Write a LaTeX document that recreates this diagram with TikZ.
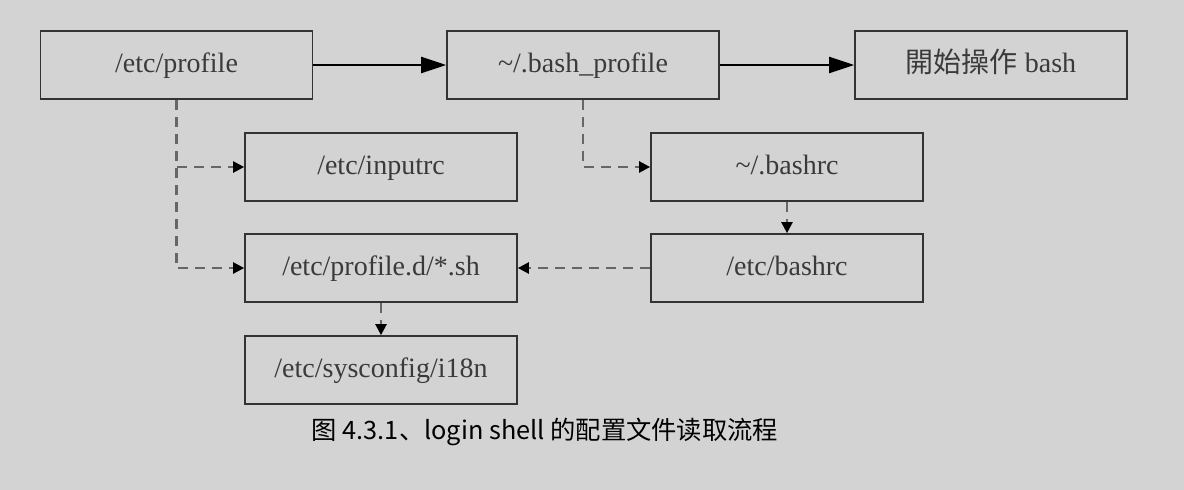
\documentclass[tikz,border=0pt]{standalone}
\usepackage{fontspec}
\setmainfont{Liberation Serif}
\newfontfamily\cjktc{Noto Sans CJK TC}
\newfontfamily\cjksc{Noto Sans CJK SC}
\usetikzlibrary{arrows.meta}
\definecolor{bg}{HTML}{D3D3D3}
\definecolor{boxline}{HTML}{333333}
\definecolor{boxtext}{HTML}{3A3A3A}
\definecolor{dashcol}{HTML}{666666}
\begin{document}
\begin{tikzpicture}[x=1pt,y=-1pt,
  filebox/.style={draw=boxline,line width=1.7pt,minimum width=272pt,minimum height=68pt,inner sep=0pt,text=boxtext,font=\fontsize{28}{30}\selectfont,fill=bg,text height=19pt,text depth=4pt},
  solidarrow/.style={line width=2.4pt,black,-{Triangle[length=25pt,width=16pt]}},
  dasharrow/.style={line width=2.3pt,dashcol,dash pattern=on 10pt off 7pt,-{Triangle[length=11pt,width=11pt,fill=black,color=black]}}]
\fill[bg] (0,0) rectangle (1184,490);
\useasboundingbox (0,0) rectangle (1184,490);
\node[filebox] (prof) at (176.5,65) {/etc/profile};
\node[filebox] (bprof) at (583,65) {\textasciitilde/.bash\_profile};
\node[filebox] (start) at (991,65) {{\cjktc 開始操作} bash};
\node[filebox] (inputrc) at (381,167) {/etc/inputrc};
\node[filebox] (profd) at (381,268) {/etc/profile.d/*.sh};
\node[filebox] (i18n) at (381,370) {/etc/sysconfig/i18n};
\node[filebox] (bashrc) at (787,167) {\textasciitilde/.bashrc};
\node[filebox] (ebashrc) at (787,268) {/etc/bashrc};
\node[font=\cjksc\fontsize{25.3}{28}\selectfont,text=black] (cap) at (545,432) {图 4.3.1、login shell 的配置文件读取流程};
\draw[solidarrow] (prof.east) -- (bprof.west);
\draw[solidarrow] (bprof.east) -- (start.west);
\draw[dasharrow] (prof.south) |- (inputrc.west);
\draw[dasharrow] (prof.south) |- (profd.west);
\draw[dasharrow] (bprof.south) |- (bashrc.west);
\draw[dasharrow] (bashrc.south) -- (ebashrc.north);
\draw[dasharrow] (ebashrc.west) -- (profd.east);
\draw[dasharrow] (profd.south) -- (i18n.north);
\end{tikzpicture}
\end{document}
